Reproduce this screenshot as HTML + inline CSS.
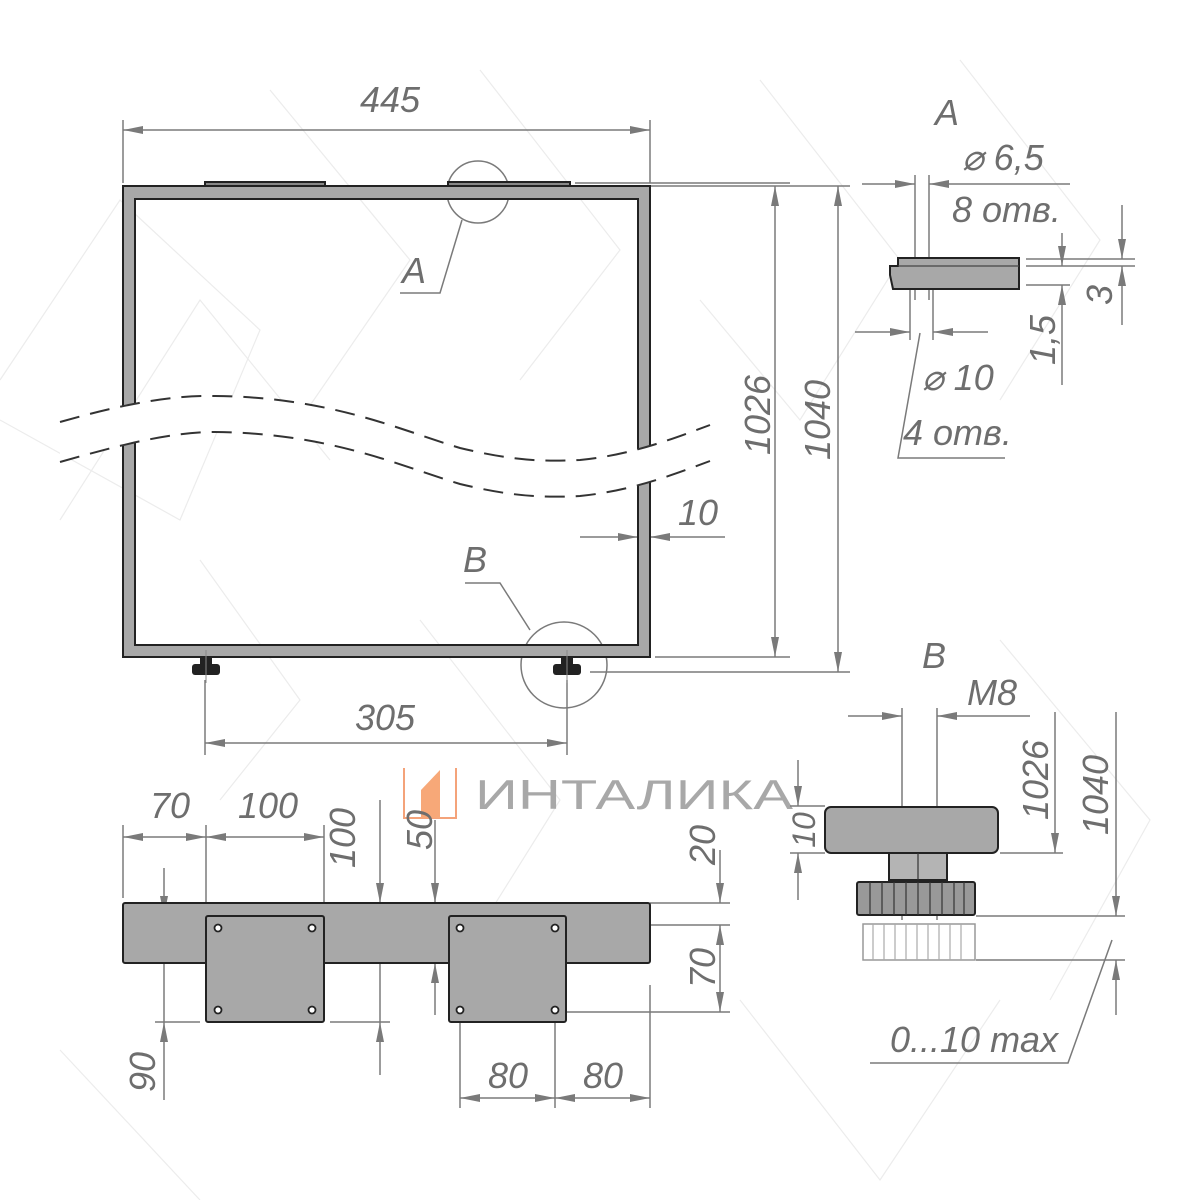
<!DOCTYPE html>
<html><head><meta charset="utf-8"><style>
html,body{margin:0;padding:0;background:#fff}
svg{display:block}
text{font-family:"Liberation Sans",sans-serif;font-style:italic;fill:#6e6e6e;font-size:36px}
</style></head><body>
<svg width="1200" height="1200" viewBox="0 0 1200 1200" xmlns="http://www.w3.org/2000/svg">
<defs>
<marker id="a" viewBox="0 0 20 8" refX="20" refY="4" markerWidth="20" markerHeight="8" markerUnits="userSpaceOnUse" orient="auto-start-reverse"><path d="M0,0L20,4L0,8z" fill="#7a7a7a"/></marker>
</defs>
<g stroke="#ececec" stroke-width="1.2" fill="none">
<path d="M0,380L120,200L260,330L180,520L0,420"/><path d="M60,520L200,300L330,460"/>
<path d="M270,90L410,260L300,420"/><path d="M480,70L620,250L520,380"/>
<path d="M760,80L900,260L800,420L700,300"/><path d="M960,60L1100,240L1000,400"/>
<path d="M1000,640L1150,820L1050,1000"/><path d="M740,1000L880,1180L1000,1000"/>
<path d="M420,620L560,800L460,960"/><path d="M60,1050L200,1200"/>
<path d="M200,560L300,700L220,800"/>
</g>

<g stroke="#7a7a7a" stroke-width="1.5" fill="none">
<line x1="123" y1="120" x2="123" y2="183"/><line x1="650" y1="120" x2="650" y2="183"/>
<line x1="123" y1="130" x2="650" y2="130" marker-start="url(#a)" marker-end="url(#a)"/>
<line x1="575" y1="183" x2="790" y2="183"/><line x1="650" y1="186" x2="850" y2="186"/>
<line x1="655" y1="657" x2="790" y2="657"/><line x1="590" y1="672" x2="850" y2="672"/>
<line x1="775" y1="186" x2="775" y2="657" marker-start="url(#a)" marker-end="url(#a)"/>
<line x1="838" y1="186" x2="838" y2="672" marker-start="url(#a)" marker-end="url(#a)"/>
<line x1="580" y1="537" x2="638" y2="537" marker-end="url(#a)"/>
<line x1="725" y1="537" x2="650" y2="537" marker-end="url(#a)"/>
<circle cx="478" cy="192" r="31"/>
<polyline points="462,220 440,293 400,293"/>
<circle cx="564" cy="665" r="43"/>
<polyline points="465,583 500,583 530,630"/>
<line x1="205" y1="680" x2="205" y2="755"/><line x1="567" y1="680" x2="567" y2="755"/>
<line x1="205" y1="743" x2="567" y2="743" marker-start="url(#a)" marker-end="url(#a)"/>
</g>

<g stroke="#222" stroke-width="2">
<rect x="205" y="182" width="120" height="5" fill="#888"/>
<rect x="448" y="182" width="122" height="5" fill="#888"/>
<path d="M123,186H650V657H123Z M135,199V645H638V199Z" fill="#a8a8a8" fill-rule="evenodd"/>
</g>
<g fill="#222"><rect x="200" y="657" width="12" height="8"/><rect x="192" y="664" width="28" height="11" rx="3"/>
<rect x="561" y="657" width="12" height="8"/><rect x="553" y="664" width="28" height="11" rx="3"/></g>
<g stroke="#888" stroke-width="1"><line x1="206" y1="650" x2="206" y2="683"/><line x1="567" y1="650" x2="567" y2="683"/></g>

<path d="M60,422 C120,405 170,395 215,396 C330,397 400,430 460,448 C510,460 540,462 580,460 C630,455 670,440 710,425 L710,461 C670,476 630,491 580,496 C540,498 510,496 460,484 C400,466 330,433 215,432 C170,432 120,445 60,462Z" fill="#fff"/>
<g stroke="#333" stroke-width="2" fill="none" stroke-dasharray="20,11">
<path d="M60,422 C120,405 170,395 215,396 C330,397 400,430 460,448 C510,460 540,462 580,460 C630,455 670,440 710,425"/>
<path d="M60,462 C120,445 170,432 215,432 C330,433 400,466 460,484 C510,496 540,498 580,496 C630,491 670,476 710,461"/>
</g>

<text x="360" y="112">445</text>
<text x="935" y="125">A</text>
<text x="402" y="283">A</text>
<text x="463" y="572">B</text>
<text x="922" y="668">B</text>
<text x="678" y="525">10</text>
<text x="355" y="730">305</text>
<text transform="translate(770,415) rotate(-90)" text-anchor="middle">1026</text>
<text transform="translate(830,420) rotate(-90)" text-anchor="middle">1040</text>

<g stroke="#7a7a7a" stroke-width="1.5" fill="none">
<line x1="915" y1="175" x2="915" y2="300"/><line x1="929" y1="175" x2="929" y2="300"/>
<line x1="862" y1="184" x2="915" y2="184" marker-end="url(#a)"/>
<line x1="1070" y1="184" x2="929" y2="184" marker-end="url(#a)"/>
<line x1="910" y1="290" x2="910" y2="340"/><line x1="933" y1="290" x2="933" y2="340"/>
<line x1="855" y1="332" x2="910" y2="332" marker-end="url(#a)"/>
<line x1="988" y1="332" x2="933" y2="332" marker-end="url(#a)"/>
<polyline points="920,333 898,458 1005,458"/>
<line x1="1026" y1="259" x2="1135" y2="259"/><line x1="1026" y1="266" x2="1135" y2="266"/><line x1="1026" y1="285" x2="1070" y2="285"/>
<line x1="1122" y1="205" x2="1122" y2="259" marker-end="url(#a)"/>
<line x1="1122" y1="325" x2="1122" y2="266" marker-end="url(#a)"/>
<line x1="1062" y1="233" x2="1062" y2="266" marker-end="url(#a)"/>
<line x1="1062" y1="385" x2="1062" y2="285" marker-end="url(#a)"/>
</g>
<path d="M898,258H1019V289H893L890,275V266H898Z" fill="#a8a8a8" stroke="#222" stroke-width="2"/>
<line x1="898" y1="266" x2="1019" y2="266" stroke="#444" stroke-width="1.2"/>
<text x="962" y="170">⌀ 6,5</text>
<text x="952" y="222">8 отв.</text>
<text x="922" y="390">⌀ 10</text>
<text x="903" y="445">4 отв.</text>
<text transform="translate(1055,340) rotate(-90)" text-anchor="middle">1,5</text>
<text transform="translate(1112,295) rotate(-90)" text-anchor="middle">3</text>

<path d="M404,768V818H456V768" fill="none" stroke="#f4a37a" stroke-width="2"/>
<path d="M421,818V790L440,770V818Z" fill="#f7a878"/>
<text x="475" y="809" style="font-style:normal;font-size:42px;fill:#a8a8a8" textLength="318" lengthAdjust="spacingAndGlyphs">ИНТАЛИКА</text>

<g stroke="#7a7a7a" stroke-width="1.5" fill="none">
<line x1="123" y1="825" x2="123" y2="898"/><line x1="206" y1="825" x2="206" y2="910"/><line x1="324" y1="825" x2="324" y2="910"/>
<line x1="123" y1="837" x2="206" y2="837" marker-start="url(#a)" marker-end="url(#a)"/>
<line x1="206" y1="837" x2="324" y2="837" marker-start="url(#a)" marker-end="url(#a)"/>
<line x1="155" y1="916" x2="200" y2="916"/><line x1="155" y1="1022" x2="200" y2="1022"/>
<line x1="164" y1="868" x2="164" y2="916" marker-end="url(#a)"/>
<line x1="164" y1="1100" x2="164" y2="1022" marker-end="url(#a)"/>
<line x1="164" y1="916" x2="164" y2="1022"/>
<line x1="330" y1="1022" x2="390" y2="1022"/>
<line x1="380" y1="800" x2="380" y2="903" marker-end="url(#a)"/>
<line x1="380" y1="1075" x2="380" y2="1022" marker-end="url(#a)"/>
<line x1="380" y1="903" x2="380" y2="1022"/>
<line x1="435" y1="820" x2="435" y2="903" marker-end="url(#a)"/>
<line x1="435" y1="1015" x2="435" y2="963" marker-end="url(#a)"/>
<line x1="650" y1="903" x2="730" y2="903"/><line x1="566" y1="925" x2="730" y2="925"/>
<line x1="566" y1="1012" x2="730" y2="1012"/>
<line x1="720" y1="850" x2="720" y2="903" marker-end="url(#a)"/>
<line x1="720" y1="925" x2="720" y2="1012" marker-start="url(#a)" marker-end="url(#a)"/>
<line x1="460" y1="1015" x2="460" y2="1108"/><line x1="555" y1="1015" x2="555" y2="1108"/><line x1="650" y1="985" x2="650" y2="1108"/>
<line x1="460" y1="1098" x2="555" y2="1098" marker-start="url(#a)" marker-end="url(#a)"/>
<line x1="555" y1="1098" x2="650" y2="1098" marker-start="url(#a)" marker-end="url(#a)"/>
</g>
<g stroke="#222" stroke-width="2" fill="#a8a8a8">
<rect x="123" y="903" width="527" height="60" rx="2"/>
<rect x="206" y="916" width="118" height="106" rx="2"/>
<rect x="449" y="916" width="117" height="106" rx="2"/>
</g>
<g stroke="#222" stroke-width="1.8" fill="#fff">
<circle cx="218" cy="928" r="3.5"/><circle cx="312" cy="928" r="3.5"/><circle cx="218" cy="1010" r="3.5"/><circle cx="312" cy="1010" r="3.5"/>
<circle cx="460" cy="928" r="3.5"/><circle cx="555" cy="928" r="3.5"/><circle cx="460" cy="1010" r="3.5"/><circle cx="555" cy="1010" r="3.5"/>
</g>
<text x="150" y="818">70</text>
<text x="238" y="818">100</text>
<text transform="translate(355,838) rotate(-90)" text-anchor="middle">100</text>
<text transform="translate(432,830) rotate(-90)" text-anchor="middle">50</text>
<text transform="translate(715,845) rotate(-90)" text-anchor="middle">20</text>
<text transform="translate(715,968) rotate(-90)" text-anchor="middle">70</text>
<text transform="translate(155,1072) rotate(-90)" text-anchor="middle">90</text>
<text x="488" y="1088">80</text>
<text x="583" y="1088">80</text>

<g stroke="#7a7a7a" stroke-width="1.5" fill="none">
<line x1="902" y1="708" x2="902" y2="920"/><line x1="937" y1="708" x2="937" y2="920"/>
<line x1="848" y1="716" x2="902" y2="716" marker-end="url(#a)"/>
<line x1="1030" y1="716" x2="937" y2="716" marker-end="url(#a)"/>
<line x1="790" y1="806" x2="825" y2="806"/><line x1="790" y1="853" x2="825" y2="853"/>
<line x1="798" y1="760" x2="798" y2="806" marker-end="url(#a)"/>
<line x1="798" y1="900" x2="798" y2="853" marker-end="url(#a)"/>
<line x1="1000" y1="853" x2="1063" y2="853"/>
<line x1="1055" y1="712" x2="1055" y2="853" marker-end="url(#a)"/>
<line x1="976" y1="916" x2="1125" y2="916"/><line x1="976" y1="960" x2="1125" y2="960"/>
<line x1="1116" y1="712" x2="1116" y2="916" marker-end="url(#a)"/>
<line x1="1116" y1="1015" x2="1116" y2="960" marker-end="url(#a)"/>
<polyline points="1112,940 1068,1063 870,1063"/>
</g>
<g stroke="#222" stroke-width="2">
<rect x="825" y="807" width="173" height="46" rx="6" fill="#a8a8a8"/>
<rect x="889" y="853" width="58" height="27" fill="#b4b4b4"/>
<rect x="857" y="882" width="118" height="33" rx="2" fill="#999"/>
</g>
<g stroke="#333" stroke-width="1.2">
<line x1="870" y1="882" x2="870" y2="915"/><line x1="882" y1="882" x2="882" y2="915"/><line x1="894" y1="882" x2="894" y2="915"/><line x1="906" y1="882" x2="906" y2="915"/><line x1="918" y1="882" x2="918" y2="915"/><line x1="930" y1="882" x2="930" y2="915"/><line x1="942" y1="882" x2="942" y2="915"/><line x1="954" y1="882" x2="954" y2="915"/><line x1="964" y1="882" x2="964" y2="915"/>
<line x1="918" y1="853" x2="918" y2="880"/>
</g>
<rect x="863" y="924" width="112" height="36" fill="#fff" stroke="#999" stroke-width="1.5"/>
<g stroke="#aaa" stroke-width="1.2">
<line x1="873" y1="924" x2="873" y2="960"/><line x1="884" y1="924" x2="884" y2="960"/><line x1="895" y1="924" x2="895" y2="960"/><line x1="906" y1="924" x2="906" y2="960"/><line x1="917" y1="924" x2="917" y2="960"/><line x1="928" y1="924" x2="928" y2="960"/><line x1="939" y1="924" x2="939" y2="960"/><line x1="950" y1="924" x2="950" y2="960"/><line x1="961" y1="924" x2="961" y2="960"/>
</g>
<text x="967" y="705">M8</text>
<text transform="translate(815,830) rotate(-90)" text-anchor="middle" style="font-size:32px">10</text>
<text transform="translate(1048,780) rotate(-90)" text-anchor="middle">1026</text>
<text transform="translate(1108,795) rotate(-90)" text-anchor="middle">1040</text>
<text x="890" y="1052">0...10 max</text>
</svg>
</body></html>
